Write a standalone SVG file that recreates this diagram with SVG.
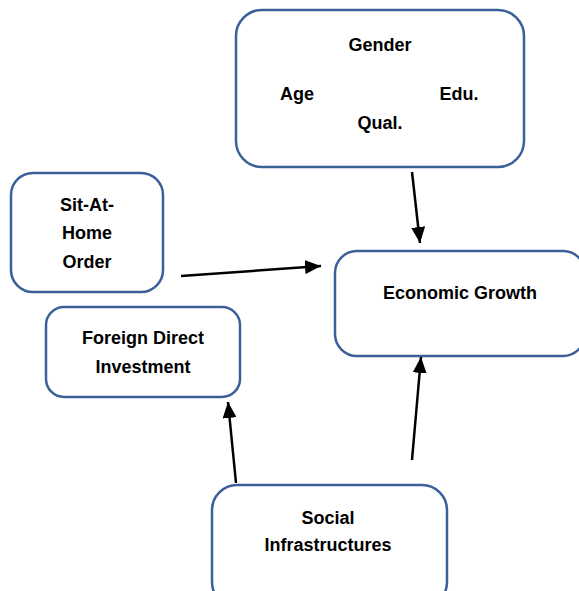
<svg xmlns="http://www.w3.org/2000/svg" width="579" height="591" viewBox="0 0 579 591">
<style>
.box{fill:#fff;stroke:#3B5F99;stroke-width:2.5}
.t{font-family:"Liberation Sans",Arial,sans-serif;font-weight:700;font-size:18px;fill:#000;text-anchor:middle}
.c{stroke:#000;stroke-width:2.5;fill:none}
</style>
<defs>
<marker id="ah" markerUnits="userSpaceOnUse" markerWidth="16" markerHeight="14" viewBox="0 0 16 14" refX="16" refY="7" orient="auto">
<path d="M0,0 L16,7 L0,14 Z" fill="#000"/>
</marker>
</defs>
<rect width="579" height="591" fill="#fff"/>
<g id="demographics">
<rect class="box" x="236" y="10" width="288" height="157" rx="26"/>
<text class="t" x="380" y="51">Gender</text>
<text class="t" x="297" y="100">Age</text>
<text class="t" x="459" y="100">Edu.</text>
<text class="t" x="380" y="129">Qual.</text>
</g>
<g id="sit-at-home">
<rect class="box" x="11" y="173" width="152" height="119" rx="22"/>
<text class="t" x="87" y="211">Sit-At-</text>
<text class="t" x="87" y="239">Home</text>
<text class="t" x="87" y="268">Order</text>
</g>
<g id="fdi">
<rect class="box" x="46" y="307" width="194" height="90" rx="18"/>
<text class="t" x="143" y="344">Foreign Direct</text>
<text class="t" x="143" y="373">Investment</text>
</g>
<g id="economic-growth">
<rect class="box" x="335" y="251" width="250" height="105" rx="22"/>
<text class="t" x="460" y="299">Economic Growth</text>
</g>
<g id="social-infrastructures">
<rect class="box" x="212" y="485" width="235" height="122" rx="25"/>
<text class="t" x="328" y="524">Social</text>
<text class="t" x="328" y="551">Infrastructures</text>
</g>
<g id="connectors">
<line class="c" x1="412" y1="172" x2="420" y2="243" marker-end="url(#ah)"/>
<line class="c" x1="181" y1="276" x2="321" y2="266" marker-end="url(#ah)"/>
<line class="c" x1="412" y1="460" x2="421" y2="357" marker-end="url(#ah)"/>
<line class="c" x1="236" y1="483" x2="228" y2="402" marker-end="url(#ah)"/>
</g>
</svg>
